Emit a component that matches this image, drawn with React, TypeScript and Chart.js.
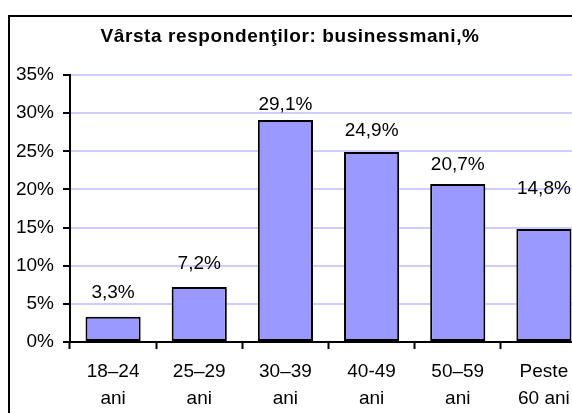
import React, { useEffect, useRef } from "react";
import { Chart, registerables } from "chart.js";

Chart.register(...registerables);

const TITLE = "Vârsta respondenţilor: businessmani,%";
const categories: string[][] = [
  ["18–24", "ani"],
  ["25–29", "ani"],
  ["30–39", "ani"],
  ["40-49", "ani"],
  ["50–59", "ani"],
  ["Peste", "60 ani"],
];
const values: number[] = [3.3, 7.2, 29.1, 24.9, 20.7, 14.8];
const yTicks: number[] = [0, 5, 10, 15, 20, 25, 30, 35];

const CANVAS_W = 600;
const CANVAS_H = 420;
const FONT = "'Liberation Sans', Arial, sans-serif";

const labelPlugin = {
  id: "barLabels",
  afterDatasetsDraw(chart: any, _args: any, opts: any) {
    const ctx = chart.ctx;
    const meta = chart.getDatasetMeta(0);
    ctx.save();
    ctx.font = `19px ${FONT}`;
    ctx.fillStyle = "#000";
    ctx.textAlign = "center";
    ctx.textBaseline = "middle";
    meta.data.forEach((bar: any, i: number) => {
      const v = values[i];
      const lift = (opts.lift && opts.lift[i]) || 21;
      ctx.fillText(v.toFixed(1).replace(".", ",") + "%", bar.x, bar.y - lift);
    });
    ctx.restore();
  },
};

const titlePlugin = {
  id: "customTitle",
  afterDraw(chart: any) {
    const ctx = chart.ctx;
    ctx.save();
    ctx.font = `bold 19px ${FONT}`;
    ctx.fillStyle = "#000";
    ctx.textAlign = "center";
    ctx.textBaseline = "middle";
    try {
      (ctx as any).letterSpacing = "0.6px";
    } catch (e) {}
    ctx.fillText(TITLE, 280, 20);
    ctx.restore();
  },
};

export default function App() {
  const ref = useRef<HTMLCanvasElement | null>(null);
  useEffect(() => {
    if (!ref.current) return;
    const chart = new Chart(ref.current, {
      type: "bar",
      data: {
        labels: categories,
        datasets: [
          {
            data: values,
            backgroundColor: "#9999ff",
            borderColor: "#000",
            borderWidth: 2,
            borderSkipped: false,
            barPercentage: 0.64,
            categoryPercentage: 1,
          },
        ],
      },
      options: {
        responsive: false,
        animation: false,
        devicePixelRatio: 1,
        layout: { padding: { top: 58, right: 23, bottom: 0, left: 0 } },
        plugins: {
          legend: { display: false },
          title: { display: false },
          tooltip: { enabled: false },
          barLabels: { lift: [24, 23, 15, 21, 19, 40] },
        } as any,
        scales: {
          x: {
            afterFit(scale: any) {
              scale.height = CANVAS_H - 325;
            },
            grid: {
              offset: true,
              drawOnChartArea: false,
              drawTicks: true,
              tickLength: 7,
              tickWidth: 2,
              tickColor: "#000",
            },
            border: { color: "#000", width: 2 },
            ticks: {
              color: "#000",
              font: { family: FONT, size: 19, lineHeight: 27 / 19 },
              padding: 9,
              maxRotation: 0,
              autoSkip: false,
            },
          },
          y: {
            min: 0,
            max: 35,
            afterFit(scale: any) {
              scale.width = 60;
            },
            afterBuildTicks(scale: any) {
              scale.ticks = yTicks.map((v) => ({ value: v }));
            },
            grid: {
              color: "#ccccff",
              lineWidth: 2,
              drawTicks: true,
              tickLength: 7,
              tickWidth: 2,
              tickColor: "#000",
            },
            border: { color: "#000", width: 2 },
            ticks: {
              color: "#000",
              font: { family: FONT, size: 19 },
              padding: 9,
              callback: (v: any) => v + "%",
            },
          },
        },
      },
      plugins: [labelPlugin, titlePlugin],
    });
    return () => chart.destroy();
  }, []);

  return (
    <div
      style={{
        position: "fixed",
        top: 8,
        left: 8,
        width: 564,
        height: 405,
        overflow: "hidden",
      }}
    >
      <div
        style={{
          position: "absolute",
          top: 7,
          left: 0,
          border: "2px solid #000",
          width: CANVAS_W,
          height: CANVAS_H,
          background: "#fff",
        }}
      >
        <canvas
          ref={ref}
          width={CANVAS_W}
          height={CANVAS_H}
          style={{ display: "block", width: CANVAS_W, height: CANVAS_H }}
        />
      </div>
    </div>
  );
}
